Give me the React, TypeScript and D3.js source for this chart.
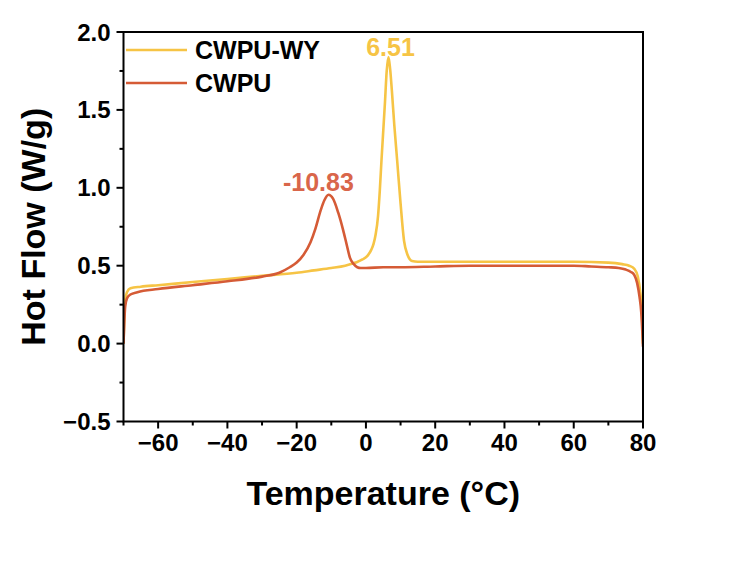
import React from "react";
import * as d3 from "d3";

const wyTemp = [-70, -69.8, -69.5, -69, -68, -65, -60, -50, -40, -30, -20, -15, -10, -6, -3, -1, 0.5, 1.5, 2.2, 2.8, 3.5, 4, 4.5, 5.5, 6, 6.51, 7, 7.5, 8.2, 9, 10, 11, 12, 13.3, 15, 20, 30, 40, 50, 60, 70, 74, 76, 77.5, 78.5, 79.2, 79.7, 80];
const wyFlow = [0.0, 0.15, 0.28, 0.33, 0.355, 0.365, 0.375, 0.395, 0.415, 0.435, 0.455, 0.47, 0.485, 0.5, 0.52, 0.54, 0.565, 0.6, 0.64, 0.7, 0.82, 0.98, 1.18, 1.55, 1.75, 1.84, 1.76, 1.62, 1.4, 1.18, 0.9, 0.66, 0.57, 0.53, 0.525, 0.525, 0.525, 0.525, 0.525, 0.525, 0.52, 0.51, 0.5, 0.48, 0.43, 0.33, 0.2, 0.0];

const pTemp = [-70, -69.8, -69.5, -69, -68, -66, -60, -50, -40, -30, -25, -22, -20, -18, -16, -14.7, -13, -12, -10.8, -9.5, -8, -6.6, -5.5, -4.6, -3.5, -2.5, -1.5, 0, 5, 10, 20, 30, 40, 50, 60, 65, 70, 73, 75, 76.5, 77.5, 78.3, 79, 79.5, 80];
const pFlow = [0.0, 0.12, 0.24, 0.29, 0.315, 0.33, 0.35, 0.375, 0.4, 0.43, 0.455, 0.49, 0.52, 0.57, 0.65, 0.73, 0.86, 0.92, 0.955, 0.93, 0.84, 0.73, 0.63, 0.55, 0.51, 0.49, 0.485, 0.485, 0.49, 0.49, 0.495, 0.5, 0.5, 0.5, 0.5, 0.495, 0.49, 0.485, 0.475, 0.46, 0.44, 0.39, 0.3, 0.2, -0.02];

const xTicks = [-60, -40, -20, 0, 20, 40, 60, 80];
const xMinor = [-70, -50, -30, -10, 10, 30, 50, 70];
const yTicks = [-0.5, 0.0, 0.5, 1.0, 1.5, 2.0];
const yMinor = [-0.25, 0.25, 0.75, 1.25, 1.75];
const seriesNames = ["CWPU-WY", "CWPU"];
const peakLabels = ["6.51", "-10.83"];
const peakTemps = [6.51, -10.83];
const peakFlows = [1.84, 0.955];

const YELLOW = "#F6C445";
const RED = "#D55B36";
const RED_TEXT = "#D9664A";
const FONT = "'Liberation Sans', Arial, sans-serif";

export default function App() {
  const left = 123.5, right = 643, top = 32, bottom = 421.5;
  const x = d3.scaleLinear().domain([-70, 80]).range([left, right]);
  const y = d3.scaleLinear().domain([-0.5, 2.0]).range([bottom, top]);
  const line = d3.line<[number, number]>().x(d => x(d[0])).y(d => y(d[1])).curve(d3.curveMonotoneX);
  const wy = wyTemp.map((t, i) => [t, wyFlow[i]] as [number, number]);
  const p = pTemp.map((t, i) => [t, pFlow[i]] as [number, number]);
  const fmtX = (v: number) => (v < 0 ? "\u2212" + Math.abs(v) : String(v));
  const fmtY = (v: number) => (v < 0 ? "\u2212" + Math.abs(v).toFixed(1) : v.toFixed(1));

  return (
    <svg width={749} height={577} style={{ position: "absolute", left: 0, top: 0, background: "#fff" }} fontFamily={FONT}>
      <rect x={0} y={0} width={749} height={577} fill="#fff" />
      <defs>
        <clipPath id="plot"><rect x={left} y={top} width={right - left} height={bottom - top + 6} /></clipPath>
      </defs>
      <g clipPath="url(#plot)">
        <path d={line(wy) || ""} fill="none" stroke={YELLOW} strokeWidth={2.6} />
        <path d={line(p) || ""} fill="none" stroke={RED} strokeWidth={2.6} />
      </g>
      <rect x={left} y={top} width={right - left} height={bottom - top} fill="none" stroke="#000" strokeWidth={2} />
      {xTicks.map(t => (
        <g key={"xt" + t}>
          <line x1={x(t)} x2={x(t)} y1={bottom} y2={bottom + 7} stroke="#000" strokeWidth={2} />
          <text x={x(t)} y={bottom + 29} textAnchor="middle" fontSize={24} fontWeight="bold">{fmtX(t)}</text>
        </g>
      ))}
      {xMinor.map(t => (
        <line key={"xm" + t} x1={x(t)} x2={x(t)} y1={bottom} y2={bottom + 4} stroke="#000" strokeWidth={2} />
      ))}
      {yTicks.map(t => (
        <g key={"yt" + t}>
          <line x1={left - 7} x2={left} y1={y(t)} y2={y(t)} stroke="#000" strokeWidth={2} />
          <text x={left - 13} y={y(t) + 8.5} textAnchor="end" fontSize={24} fontWeight="bold">{fmtY(t)}</text>
        </g>
      ))}
      {yMinor.map(t => (
        <line key={"ym" + t} x1={left - 4} x2={left} y1={y(t)} y2={y(t)} stroke="#000" strokeWidth={2} />
      ))}
      <text x={(left + right) / 2} y={505} textAnchor="middle" fontSize={34} fontWeight="bold">Temperature (°C)</text>
      <text transform={`translate(45, ${(top + bottom) / 2}) rotate(-90)`} textAnchor="middle" fontSize={34} fontWeight="bold">Hot Flow (W/g)</text>
      {seriesNames.map((n, i) => (
        <g key={n}>
          <line x1={126} x2={187} y1={50 + i * 33} y2={50 + i * 33} stroke={i === 0 ? YELLOW : RED} strokeWidth={2.6} />
          <text x={195} y={59 + i * 33} fontSize={25} fontWeight="bold">{n}</text>
        </g>
      ))}
      {peakLabels.map((l, i) => (
        <text key={l} x={x(peakTemps[i]) + (i === 0 ? 2 : -10)} y={y(peakFlows[i]) - (i === 0 ? 1 : 4)} textAnchor="middle" fontSize={25} fontWeight="bold" fill={i === 0 ? YELLOW : RED_TEXT}>{l}</text>
      ))}
    </svg>
  );
}
